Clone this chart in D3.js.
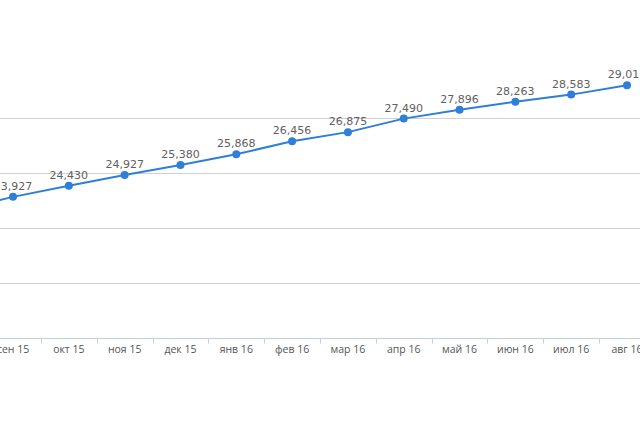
<!DOCTYPE html>
<html><head><meta charset="utf-8">
<script src="https://cdn.jsdelivr.net/npm/d3@7"></script>
<style>body{margin:0;background:#fff}svg{display:block}</style>
</head><body>
<svg id="c" width="640" height="427"></svg>
<script>
const categories = ["авг 15","сен 15","окт 15","ноя 15","дек 15","янв 16","фев 16","мар 16","апр 16","май 16","июн 16","июл 16","авг 16"];
const values = [23330,23927,24430,24927,25380,25868,26456,26875,27490,27896,28263,28583,29013];
const yTicks = [17500,20000,22500,25000,27500];

const svg = d3.select("#c");
const x = d3.scaleBand().domain(categories).range([-70.7, 654.9]);
const y = d3.scaleLinear().domain([17500, 30000]).range([338, 63.5]);
const cx = d => x(d) + x.bandwidth()/2;

// gridlines
svg.append("g").selectAll("line").data(yTicks.slice(1)).join("line")
  .attr("x1",0).attr("x2",640)
  .attr("y1",d=>Math.round(y(d))+0.5).attr("y2",d=>Math.round(y(d))+0.5)
  .attr("stroke","#d0d0d0").attr("stroke-width",1);

// x axis
const xa = svg.append("g").attr("transform",`translate(0,${Math.round(y(17500))+0.5})`);
xa.append("line").attr("x1",0).attr("x2",640).attr("stroke","#c0d0e0");
xa.selectAll("line.t").data(categories.slice(1)).join("line").attr("class","t")
  .attr("x1",d=>Math.round(x(d))+0.5).attr("x2",d=>Math.round(x(d))+0.5)
  .attr("y1",0).attr("y2",5).attr("stroke","#c0d0e0");
xa.selectAll("text").data(categories).join("text")
  .attr("x",d=>cx(d)).attr("y",14).attr("text-anchor","middle")
  .attr("font-family","'Open Sans', sans-serif").attr("font-size","10.5px").attr("fill","#555")
  .text(d=>d);

// line
const data = categories.map((c,i)=>({c, v: values[i]}));
svg.append("path").datum(data)
  .attr("d", d3.line().x(d=>cx(d.c)).y(d=>y(d.v)))
  .attr("fill","none").attr("stroke","#2f7ed8").attr("stroke-width",2);
svg.append("g").selectAll("circle").data(data).join("circle")
  .attr("cx",d=>cx(d.c)).attr("cy",d=>y(d.v)).attr("r",4).attr("fill","#2f7ed8");
const fmt = d3.format(",");
svg.append("g").selectAll("text").data(data).join("text")
  .attr("x",d=>cx(d.c)).attr("y",d=>y(d.v)-7).attr("text-anchor","middle")
  .attr("font-family","'DejaVu Sans', sans-serif").attr("font-size","11px").attr("fill","#606060")
  .text(d=>fmt(d.v));
</script>
</body></html>
